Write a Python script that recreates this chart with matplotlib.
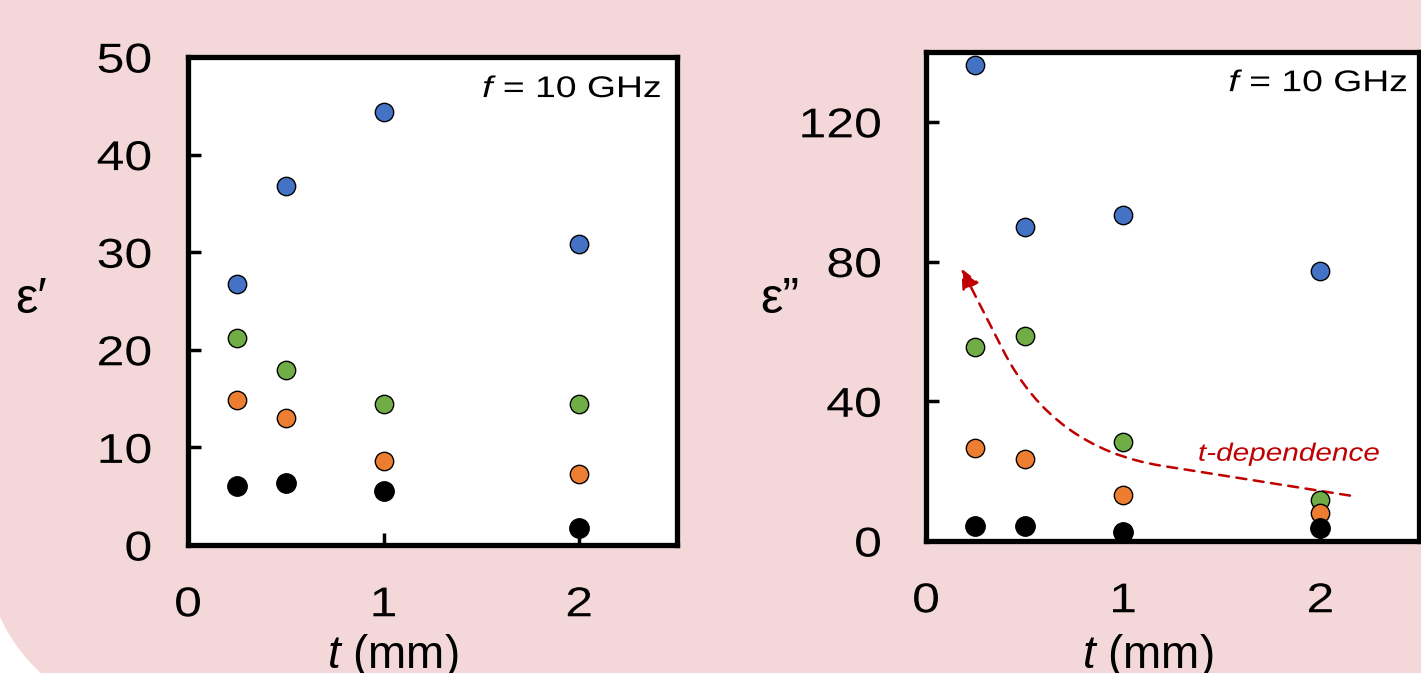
import matplotlib
matplotlib.use("Agg")
import matplotlib.pyplot as plt
from matplotlib.patches import Rectangle, Circle
from matplotlib.patheffects import AbstractPathEffect
from matplotlib.transforms import Affine2D

plt.rcParams['font.family'] = ['Liberation Sans', 'DejaVu Sans']
plt.rcParams['mathtext.fontset'] = 'custom'
plt.rcParams['mathtext.rm'] = 'Liberation Sans'
plt.rcParams['mathtext.it'] = 'Liberation Sans:italic'

# ---- data ----
thickness = [0.25, 0.5, 1.0, 2.0]
eps_real_blue = [26.7, 36.8, 44.4, 30.8]
eps_real_green = [21.2, 17.9, 14.4, 14.4]
eps_real_orange = [14.9, 13.0, 8.6, 7.3]
eps_real_black = [6.0, 6.4, 5.5, 1.7]

eps_imag_blue = [136.3, 90.0, 93.4, 77.4]
eps_imag_green = [55.4, 58.6, 28.3, 11.7]
eps_imag_orange = [26.6, 23.4, 13.1, 8.0]
eps_imag_black = [4.3, 4.3, 2.6, 3.7]

x_ticks = [0, 1, 2]
y_ticks_real = [0, 10, 20, 30, 40, 50]
y_ticks_imag = [0, 40, 80, 120]

arrow_start = (2.15, 13)
arrow_end = (0.18, 78)

colors = {'blue': '#4472C4', 'green': '#70AD47', 'orange': '#ED7D31', 'black': '#000000'}
PINK = '#F4D7D8'


class Stretch(AbstractPathEffect):
    """Widen text horizontally about an anchor (left/center/right)."""
    def __init__(self, sx, anchor='center'):
        super().__init__()
        self.sx = sx
        self.anchor = anchor

    def draw_path(self, renderer, gc, tpath, affine, rgbFace=None):
        ext = affine.transform_path(tpath).get_extents()
        x0 = {'left': ext.x0, 'right': ext.x1, 'center': 0.5 * (ext.x0 + ext.x1)}[self.anchor]
        aff = affine + Affine2D().translate(-x0, 0).scale(self.sx, 1).translate(x0, 0)
        renderer.draw_path(gc, tpath, aff, rgbFace)


W, H = 1421, 673
fig = plt.figure(figsize=(W / 100, H / 100), dpi=100)
fig.patch.set_facecolor('white')

# background layer in pixel units (pink panel with rounded lower-left corner)
bgax = fig.add_axes([0, 0, 1, 1], zorder=-10)
bgax.set_xlim(0, W)
bgax.set_ylim(0, H)
bgax.axis('off')
R, cx, cy = 170, 155, 126
bgax.add_patch(Rectangle((cx, -10), W, H + 20, facecolor=PINK, edgecolor='none'))
bgax.add_patch(Rectangle((-10, cy), W + 20, H, facecolor=PINK, edgecolor='none'))
bgax.add_patch(Circle((cx, cy), R, facecolor=PINK, edgecolor='none'))

ax1 = fig.add_axes([188 / W, 1 - 545 / H, 489 / W, 488 / H])
ax2 = fig.add_axes([926 / W, 1 - 541 / H, 493 / W, 489 / H])


def style(ax, yticks, ylim, ypad):
    ax.set_facecolor('white')
    ax.set_xlim(0, 2.5)
    ax.set_ylim(*ylim)
    ax.set_xticks(x_ticks)
    ax.set_yticks(yticks)
    for s in ax.spines.values():
        s.set_linewidth(3.8)
    ax.tick_params(direction='in', length=9, width=2.5, labelsize=30,
                   top=False, right=False)
    ax.tick_params(axis='y', pad=ypad)
    ax.tick_params(axis='x', pad=29)
    for t in ax.xaxis.get_major_ticks():
        t.label1.set_path_effects([Stretch(1.2, 'center')])
    for t in ax.yaxis.get_major_ticks():
        t.label1.set_path_effects([Stretch(1.2, 'right')])


series1 = [(eps_real_blue, 'blue'), (eps_real_green, 'green'),
           (eps_real_orange, 'orange'), (eps_real_black, 'black')]
series2 = [(eps_imag_blue, 'blue'), (eps_imag_green, 'green'),
           (eps_imag_orange, 'orange'), (eps_imag_black, 'black')]

for ax, series in ((ax1, series1), (ax2, series2)):
    for vals, c in series:
        ax.scatter(thickness, vals, s=195 if c == 'black' else 175,
                   color=colors[c], edgecolors='black', linewidths=1.0,
                   zorder=3, clip_on=False)

style(ax1, y_ticks_real, (0, 50), 26)
style(ax2, y_ticks_imag, (0, 140), 32)

for ax, xa, ya in ((ax1, 0.969, 0.934), (ax2, 0.978, 0.936)):
    ax.text(xa, ya, r'$f$ = 10 GHz', transform=ax.transAxes,
            ha='right', va='center', fontsize=21.5,
            path_effects=[Stretch(1.25, 'right')])

ax2.annotate('', xy=arrow_end, xytext=arrow_start,
             arrowprops=dict(arrowstyle='-|>,head_length=1.2,head_width=0.55',
                             linestyle=(0, (4, 3)), color='#C00000', lw=1.8,
                             connectionstyle='angle,angleA=-9,angleB=-63,rad=110',
                             shrinkA=0, shrinkB=0), zorder=2)
ax2.text(2.30, 25, 't-dependence', ha='right', va='center', fontsize=18,
         style='italic', color='#C00000', path_effects=[Stretch(1.19, 'right')])

fig.text(31 / W, 1 - 300 / H, 'ε′', fontsize=36, ha='center', va='center',
         family=['Liberation Sans', 'DejaVu Sans'])
fig.text(780 / W, 1 - 300 / H, 'ε”', fontsize=36, ha='center', va='center',
         family=['Liberation Sans', 'DejaVu Sans'])
for xc in (393, 1148):
    fig.text(xc / W, 1 - 656 / H, r'$t$ (mm)', fontsize=33, ha='center', va='center')

fig.savefig('out.png', dpi=100, facecolor=fig.get_facecolor())
